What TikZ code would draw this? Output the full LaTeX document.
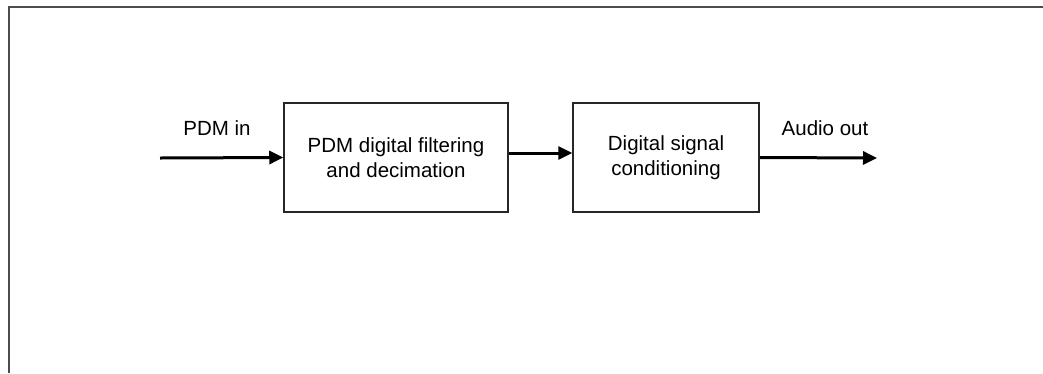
\documentclass[tikz,border=0pt]{standalone}
\usepackage{fontspec}
\setmainfont{Liberation Sans}
\usetikzlibrary{arrows.meta}
\begin{document}
\begin{tikzpicture}[x=1pt,y=-1pt,
  block/.style={draw=black!85, line width=1.5pt, fill=white, inner sep=0pt,
    minimum width=224pt, minimum height=109pt, align=center,
    font=\fontsize{20.5}{25}\selectfont},
  label/.style={inner sep=0pt, font=\fontsize{20.5}{25}\selectfont},
  flow/.style={line width=3pt, -{Triangle[length=14pt,width=13pt]}},
  frame/.style={draw=black!70, line width=2pt}]
  \useasboundingbox (0,0) rectangle (1043,373);

  % partial frame: left and top edges only
  \draw[frame] (9,373) -- (9,7) -- (1043,7);

  % processing blocks
  \node[block] (filt) at (396,157.5) {PDM digital filtering\\and decimation};
  \node[block, minimum width=186pt] (cond) at (666,157.5) {Digital signal\\conditioning};

  % signal labels
  \node[label] (pdmin) at (217,128) {PDM in};
  \node[label] (audout) at (825,128) {Audio out};

  % signal path
  \coordinate (src) at (160,158);
  \coordinate (dst) at (877,158);
  \draw[flow] (src) -- (filt.west);
  \draw[flow] ([yshift=4.5pt]filt.east) -- ([yshift=4.5pt]cond.west);
  \draw[flow] (cond.east) -- (dst);
\end{tikzpicture}
\end{document}
